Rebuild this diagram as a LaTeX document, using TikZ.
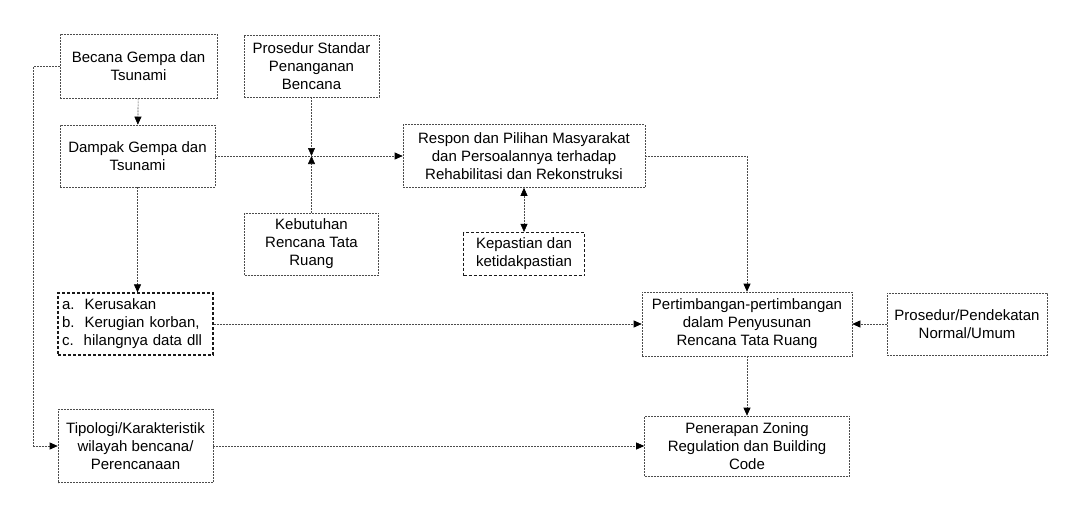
\documentclass[tikz,border=0pt]{standalone}
\usepackage{fontspec}
\setmainfont{Liberation Sans}
\usetikzlibrary{arrows.meta}

\tikzstyle{plainBox}=[draw=black!70,line width=0.6pt,dash pattern=on 2pt off 1pt,align=center,inner sep=2pt,font=\fontsize{15}{18}\selectfont]
\tikzstyle{boldBox}=[plainBox,draw=black!90,line width=1.2pt,dash pattern=on 3pt off 2pt]
\tikzstyle{flow}=[draw=black!70,line width=0.6pt,dash pattern=on 2pt off 1pt,-{Triangle[length=8pt,width=7pt,color=black]}]

\begin{document}
\begin{tikzpicture}[x=1pt,y=-1pt]
        \useasboundingbox (0,0) rectangle (1076,512);

        \node[plainBox,minimum width=157,minimum height=64] (becana)    at (138.5,66)  {Becana Gempa dan\\Tsunami};
        \node[plainBox,minimum width=155,minimum height=62] (dampak)    at (137.5,156) {Dampak Gempa dan\\Tsunami};
        \node[plainBox,minimum width=135,minimum height=62] (prosstd)   at (311.5,66)  {Prosedur Standar\\Penanganan\\Bencana};
        \node[plainBox,minimum width=134,minimum height=62] (kebutuhan) at (311.5,244) {Kebutuhan\\Rencana Tata\\Ruang};
        \node[plainBox,minimum width=242,minimum height=63] (respon)    at (524,156)   {Respon dan Pilihan Masyarakat\\dan Persoalannya terhadap\\Rehabilitasi dan Rekonstruksi};
        \node[boldBox,minimum width=121,minimum height=43]  (kepastian) at (524,254)   {Kepastian dan\\ketidakpastian};
        \node[boldBox,minimum width=155,minimum height=62,align=left,text width=147] (dampaklist) at (135.5,324)
                {a.\ \ Kerusakan\\b.\ \ Kerugian korban,\\c.\ \ hilangnya data dll};
        \node[plainBox,minimum width=210,minimum height=64] (pertimb)   at (747,324)   {Pertimbangan-pertimbangan\\dalam Penyusunan\\Rencana Tata Ruang};
        \node[plainBox,minimum width=160,minimum height=62] (prospend)  at (967,324)   {Prosedur/Pendekatan\\Normal/Umum};
        \node[plainBox,minimum width=155,minimum height=73] (tipologi)  at (135.5,446) {Tipologi/Karakteristik\\wilayah bencana/\\Perencanaan};
        \node[plainBox,minimum width=205,minimum height=60] (penerapan) at (747,446)   {Penerapan Zoning\\Regulation dan Building\\Code};

        \coordinate (jct) at (prosstd.south |- dampak.east);

        \draw [flow] (becana) to (dampak);
        \draw [flow] (becana.west) -- ++(-26,0) |- (tipologi.west);
        \draw [flow] (prosstd) to (jct);
        \draw [flow] (kebutuhan) to (jct);
        \draw [flow] (dampak.east) to (respon.west);
        \draw [flow,{Triangle[length=8pt,width=7pt,color=black]}-{Triangle[length=8pt,width=7pt,color=black]}] (kepastian.north |- respon.south) to (kepastian.north);
        \draw [flow] (respon.east) -| (pertimb.north);
        \draw [flow] (dampak.south) to (dampak.south |- dampaklist.north);
        \draw [flow] (dampaklist.east) to (pertimb.west);
        \draw [flow] (prospend.west) to (pertimb.east);
        \draw [flow] (pertimb.south) to (penerapan.north);
        \draw [flow] (tipologi.east) to (penerapan.west);
\end{tikzpicture}
\end{document}
